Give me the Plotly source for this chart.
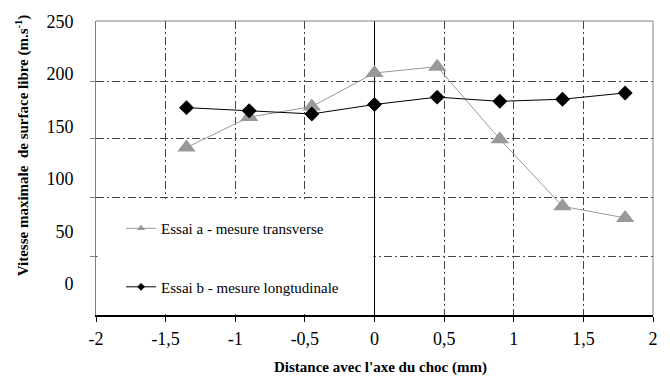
import plotly.graph_objects as go

# Data
x_pos = [-1.35, -0.9, -0.45, 0, 0.45, 0.9, 1.35, 1.8]
essai_a = [130, 159, 169, 201, 207, 138, 74, 63]
essai_b = [168, 165, 162, 171, 178, 174, 176, 182]
name_a = "Essai a - mesure transverse"
name_b = "Essai b - mesure longtudinale"

x_ticks = [-2, -1.5, -1, -0.5, 0, 0.5, 1, 1.5, 2]
x_ticktext = ["-2", "-1,5", "-1", "-0,5", "0", "0,5", "1", "1,5", "2"]
y_ticks = [0, 50, 100, 150, 200, 250]
y_grid = [26.3, 82.0, 138.2, 192.8]

Y_RANGE = [-29.5, 250.5]
FONT = "Liberation Serif, Times New Roman, serif"
GRAY = "#999999"
DASH = "8px,3px,2px,3px"

fig = go.Figure()
fig.add_trace(go.Scatter(x=x_pos, y=essai_a, mode="lines+markers", showlegend=False,
                         line=dict(color=GRAY, width=1),
                         marker=dict(symbol="triangle-up", size=16, color=GRAY)))
fig.add_trace(go.Scatter(x=x_pos, y=essai_b, mode="lines+markers", showlegend=False,
                         line=dict(color="black", width=1),
                         marker=dict(symbol="diamond", size=11.5, color="black")))
# legend entries with small symbols
fig.add_trace(go.Scatter(x=[None], y=[None], mode="lines+markers", name=name_a, legend="legend",
                         line=dict(color=GRAY, width=1),
                         marker=dict(symbol="triangle-up", size=7, color=GRAY)))
fig.add_trace(go.Scatter(x=[None], y=[None], mode="lines+markers", name=name_b, legend="legend2",
                         line=dict(color="black", width=1),
                         marker=dict(symbol="diamond", size=6, color="black")))
# invisible trace to host the grid axis
fig.add_trace(go.Scatter(x=[None], y=[None], yaxis="y2", showlegend=False, hoverinfo="skip"))

fig.update_layout(
    width=670, height=379,
    margin=dict(l=96, r=13, t=19, b=64),
    paper_bgcolor="white", plot_bgcolor="white",
    font=dict(family=FONT, color="black"),
    xaxis=dict(range=[-2, 2], tickvals=x_ticks, ticktext=x_ticktext,
               tickfont=dict(size=18), showline=True, linecolor="black", linewidth=1.5,
               ticks="outside", ticklen=5, tickcolor="black",
               showgrid=True, gridcolor="#444444", griddash=DASH, gridwidth=1,
               zeroline=True, zerolinecolor="black", zerolinewidth=1.2,
               ticklabelstandoff=2),
    yaxis=dict(range=Y_RANGE, tickvals=y_ticks, tickfont=dict(size=18),
               showgrid=False, zeroline=False, showline=True, linecolor="#808080",
               linewidth=1, ticks="", ticklabelstandoff=18),
    yaxis2=dict(range=Y_RANGE, overlaying="y", side="left", tickvals=y_grid,
                showticklabels=False, ticks="outside", ticklen=5, tickcolor="#808080",
                showgrid=True, gridcolor="#444444", griddash=DASH, gridwidth=1,
                zeroline=False, showline=False),
    legend=dict(x=0.045, y=0.294, xanchor="left", yanchor="middle",
                bgcolor="rgba(0,0,0,0)", font=dict(size=15, family=FONT)),
    legend2=dict(x=0.045, y=0.095, xanchor="left", yanchor="middle",
                 bgcolor="rgba(0,0,0,0)", font=dict(size=15, family=FONT)),
    shapes=[
        dict(type="rect", xref="x", yref="y", x0=-1.99, x1=-0.008, y0=-28.6, y1=81.0,
             fillcolor="white", line=dict(width=0), layer="above"),
        dict(type="line", xref="paper", yref="paper", x0=0, x1=1, y0=1, y1=1,
             line=dict(color="#808080", width=1), layer="above"),
        dict(type="line", xref="paper", yref="paper", x0=1, x1=1, y0=0, y1=1,
             line=dict(color="#808080", width=1), layer="above"),
    ],
    annotations=[
        dict(text="<b>Vitesse maximale  de surface libre (m.s<sup>-1</sup>)</b>", xref="paper", yref="paper",
             x=-0.132, y=0.579, xanchor="center", yanchor="middle", textangle=-90,
             showarrow=False, font=dict(size=15, family=FONT)),
        dict(text="<b>Distance avec l'axe du choc (mm)</b>", xref="paper", yref="paper",
             x=0.51, y=-0.179, xanchor="center", yanchor="middle",
             showarrow=False, font=dict(size=15, family=FONT)),
    ],
)

fig.write_html("out.html", config={"displayModeBar": False},
               post_script="document.body.style.margin='0';")
